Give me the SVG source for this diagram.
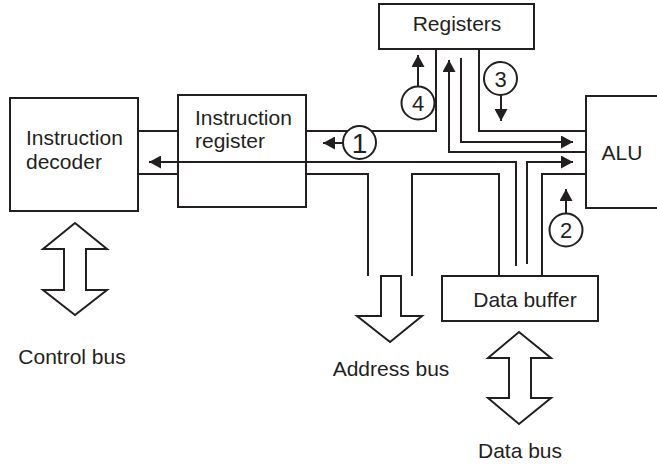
<svg xmlns="http://www.w3.org/2000/svg" width="657" height="464" viewBox="0 0 657 464">
<style>
.box{fill:#fff;stroke:#231f20;stroke-width:2}
.ln{fill:none;stroke:#231f20;stroke-width:2}
.arr{fill:none;stroke:#231f20;stroke-width:2;marker-end:url(#ah)}
.bus{fill:#fff;stroke:#231f20;stroke-width:2;stroke-linejoin:miter}
.t{font-family:"Liberation Sans",Arial,sans-serif;font-size:21px;fill:#231f20}
.n{font-size:22px}
.c{text-anchor:middle}
.circ{fill:#fff;stroke:#231f20;stroke-width:2}
</style>
<defs>
<marker id="ah" markerUnits="userSpaceOnUse" markerWidth="13" markerHeight="13" refX="12" refY="6.5" orient="auto">
<path d="M0,0 L12,6.5 L0,13 z" fill="#231f20"/>
</marker>
</defs>
<rect width="657" height="464" fill="#fff"/>
<g id="connectors">
<path class="ln" d="M436,49 V131 H306"/>
<path class="ln" d="M137,131 H178"/>
<path class="ln" d="M137,174 H178"/>
<path class="arr" d="M516,266 V162 H149"/>
<path class="ln" d="M479,49 V131 H586"/>
<path class="arr" d="M586,152 H449 V60"/>
<path class="arr" d="M461,58 V142 H573"/>
<path class="arr" d="M527,264 V162 H573"/>
<path class="ln" d="M542,276 V174 H586"/>
<path class="ln" d="M306,174 H368 V276"/>
<path class="ln" d="M412,276 V174 H499 V276"/>
<path class="arr" d="M418,87 V55"/>
<path class="arr" d="M501,95 V121"/>
<path class="arr" d="M343,143 H323"/>
<path class="arr" d="M566,213 V189"/>
</g>
<g id="registers">
<rect class="box" x="379" y="4" width="155" height="45"/>
<text class="t c" x="457" y="31">Registers</text>
</g>
<g id="instruction-decoder">
<rect class="box" x="10" y="98" width="128" height="113"/>
<text class="t" x="26" y="145">Instruction</text>
<text class="t" x="26" y="169">decoder</text>
</g>
<g id="instruction-register">
<rect class="box" x="178" y="95" width="128" height="112" style="fill:none"/>
<text class="t" x="195" y="125">Instruction</text>
<text class="t" x="195" y="148">register</text>
</g>
<g id="alu">
<rect class="box" x="586" y="96" width="80" height="112"/>
<text class="t c" x="622" y="160">ALU</text>
</g>
<g id="data-buffer">
<rect class="box" x="442" y="276" width="156" height="45"/>
<text class="t c" x="525" y="307">Data buffer</text>
</g>
<g id="address-bus">
<polygon class="bus" points="381,276 401,276 401,316 422,316 390,342 357,316 381,316"/>
<text class="t c" x="391" y="376">Address bus</text>
</g>
<g id="control-bus">
<polygon class="bus" points="75,223 107,249 86,249 86,290 107,290 75,315 43,290 64,290 64,249 43,249"/>
<text class="t c" x="72" y="364">Control bus</text>
</g>
<g id="data-bus">
<polygon class="bus" points="519,332 551,358 531,358 531,398 551,398 519,424 488,398 509,398 509,358 488,358"/>
<text class="t c" x="520" y="458">Data bus</text>
</g>
<g id="label-1">
<circle class="circ" cx="359.5" cy="142.5" r="16.5"/>
<text class="t c" x="359.5" y="152.5" style="font-size:28px">1</text>
</g>
<g id="label-2">
<circle class="circ" cx="566" cy="230" r="16.5"/>
<text class="t n c" x="566" y="238">2</text>
</g>
<g id="label-3">
<circle class="circ" cx="500.5" cy="78.5" r="16.5"/>
<text class="t n c" x="500.5" y="86.5">3</text>
</g>
<g id="label-4">
<circle class="circ" cx="418" cy="103" r="16.5"/>
<text class="t n c" x="418" y="111">4</text>
</g>
</svg>
